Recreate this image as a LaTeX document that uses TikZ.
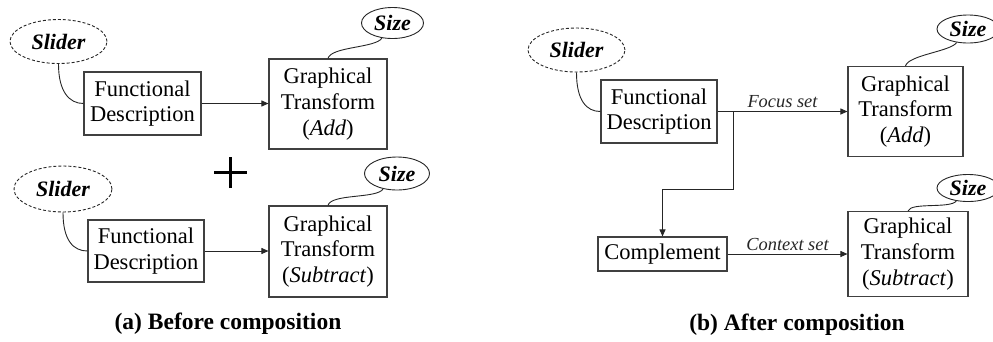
\documentclass[tikz,border=0pt]{standalone}
\usepackage{fontspec}
\setmainfont{Liberation Serif}
\usetikzlibrary{shapes.geometric,arrows.meta}
\tikzset{
  x=1pt, y=1pt,
  boxnode/.style={draw=black!75, line width=1.1pt, rectangle, inner sep=0pt, align=center,
    font=\fontsize{22.5}{25.7}\selectfont},
  slidernode/.style={draw=black!85, line width=0.9pt, dash pattern=on 3pt off 2pt, ellipse, inner sep=0pt,
    minimum width=97, minimum height=44, font=\fontsize{22}{24}\selectfont\bfseries\itshape},
  sizenode/.style={draw=black!85, line width=0.9pt, ellipse, inner sep=0pt,
    minimum width=62, minimum height=31, font=\fontsize{22}{24}\selectfont\bfseries\itshape},
  wire/.style={black!85, line width=0.9pt},
  arr/.style={wire, -{Triangle[length=7pt,width=6pt]}},
  setlabel/.style={font=\fontsize{18.4}{20}\selectfont\itshape, inner sep=3pt},
  caption/.style={font=\fontsize{23.5}{26}\selectfont\bfseries, inner sep=0pt}
}
\begin{document}
\begin{tikzpicture}
\useasboundingbox (0,0) rectangle (993,-341);

% ---------- (a) before composition ----------
\node[slidernode] (sl1) at (58.5,-41.5) {Slider};
\node[boxnode, minimum width=117, minimum height=63] (fd1) at (142.5,-103.5) {Functional\\Description};
\node[boxnode, minimum width=118, minimum height=90] (gt1) at (328,-104) {Graphical\\Transform\\(\textit{Add})};
\node[sizenode] (sz1) at (392.5,-23) {Size};

\draw[wire] (sl1.south) .. controls +(0,-28) and +(-14,0) .. (fd1.west);
\draw[arr] (fd1.east) -- (fd1.east -| gt1.west);
\draw[wire] (gt1.north) .. controls +(3,12) and +(-6,-10) .. (sz1.235);

\node[slidernode, minimum width=98, minimum height=46] (sl2) at (63,-189) {Slider};
\node[boxnode, minimum width=116, minimum height=62] (fd2) at (146,-251) {Functional\\Description};
\node[boxnode, minimum width=118, minimum height=91] (gt2) at (328,-251.5) {Graphical\\Transform\\(\textit{Subtract})};
\node[sizenode, minimum width=65, minimum height=33] (sz2) at (397,-173.5) {Size};

\draw[wire] (sl2.south) .. controls +(0,-28) and +(-14,0) .. (fd2.west);
\draw[arr] (fd2.east) -- (fd2.east -| gt2.west);
\draw[wire] (gt2.north) .. controls +(3,12) and +(-6,-10) .. (sz2.228);

% plus sign between the two chains
\coordinate (plus) at (230.5,-172.5);
\draw[line width=3.4pt] ([xshift=-16.5pt]plus) -- ([xshift=16.5pt]plus)
                        ([yshift=-15.5pt]plus) -- ([yshift=15.5pt]plus);

\node[caption] (capa) at (228,-324) {(a) Before composition};

% ---------- (b) after composition ----------
\node[slidernode] (sl3) at (576.5,-50) {Slider};
\node[boxnode, minimum width=116, minimum height=63] (fd3) at (659,-111.5) {Functional\\Description};
\node[boxnode, minimum width=115, minimum height=90] (gt3) at (905.5,-111.5) {Graphical\\Transform\\(\textit{Add})};
\node[sizenode, minimum height=28] (sz3) at (968,-29) {Size};

\node[boxnode, minimum width=129, minimum height=34] (comp) at (662.5,-254) {Complement};
\node[boxnode, minimum width=120, minimum height=85] (gt4) at (908,-254) {Graphical\\Transform\\(\textit{Subtract})};
\node[sizenode, minimum height=27] (sz4) at (968,-188) {Size};

\draw[wire] (sl3.south) .. controls +(0,-28) and +(-14,0) .. (fd3.west);
\draw[arr] (fd3.east) -- node[setlabel, above] {Focus set} (fd3.east -| gt3.west);
\draw[wire] (gt3.north) .. controls +(3,11) and +(-6,-9) .. (sz3.230);

\coordinate (br) at (733,-111.5);
\coordinate (bend) at (733,-189);
\draw[arr] (br) -- (bend) -| (comp.north);

\draw[arr] (comp.east) -- node[setlabel, above] {Context set} (comp.east -| gt4.west);
\draw[wire] (gt4.north) .. controls +(3,9) and +(-6,-8) .. (sz4.228);

\node[caption] (capb) at (797,-325) {(b) After composition};
\end{tikzpicture}
\end{document}
